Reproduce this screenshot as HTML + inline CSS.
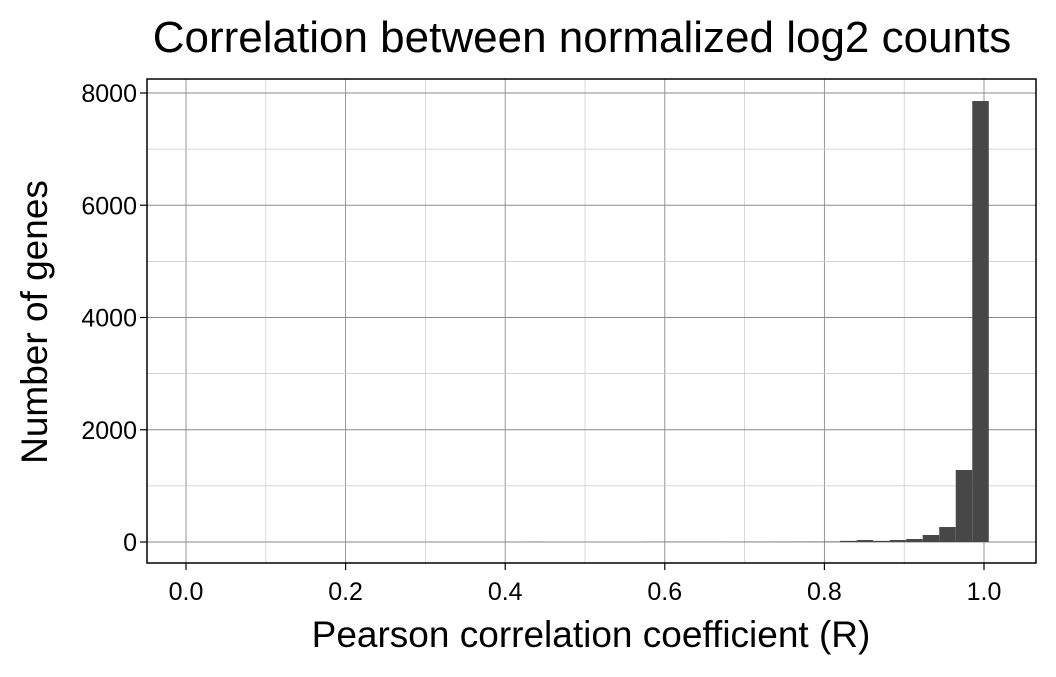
<!DOCTYPE html>
<html><head><meta charset="utf-8"><style>
body{margin:0;background:#fff;font-family:"Liberation Sans",sans-serif}
svg text{font-family:"Liberation Sans",sans-serif}
</style></head><body>
<svg id="c" width="1056" height="672"></svg>
<script>
const counts=[0,0,0,0,0,0,0,0,0,0,0,0,0,0,0,0,0,0,0,0,0,3,0,0,0,0,0,0,2,2,2,2,2,3,3,3,4,5,6,8,20,35,20,35,53,125,267,1283,7857];
const binWidth=0.0207;
const lastEdge=1.006;
const xTicks=[0,0.2,0.4,0.6,0.8,1.0];
const xTickLabels=["0.0","0.2","0.4","0.6","0.8","1.0"];
const yTicks=[0,2000,4000,6000,8000];
const L=147,R=1036,T=79,B=563;
const X=v=>186+(v)*798;
const Y=v=>542-v*449/8000;
const s=document.getElementById('c');
const NS='http://www.w3.org/2000/svg';
function el(t,a,txt){const e=document.createElementNS(NS,t);for(const k in a)e.setAttribute(k,a[k]);if(txt!==undefined)e.textContent=txt;s.appendChild(e);return e;}
let r=el('rect',{x:L,y:T,width:R-L,height:B-T,fill:'#fff'});

for(let i=0;i<=10;i++){const v=i/10;const g=el('line',{x1:X(v),x2:X(v),y1:T,y2:B,stroke:i%2?'#c8c8c8':'#8a8a8a','stroke-width':i%2?0.7:0.9});
}
for(let i=0;i<=9;i++){const v=i*1000;if(Y(v)<T)continue;const g=el('line',{x1:L,x2:R,y1:Y(v),y2:Y(v),stroke:i%2?'#c8c8c8':'#8a8a8a','stroke-width':i%2?0.7:0.9});
}
const n=counts.length;
counts.forEach((c,i)=>{const x0=lastEdge-(n-i)*binWidth;const b=el('rect',{x:X(x0),y:Y(c),width:binWidth*798,height:Math.max(0,Y(0)-Y(c)),fill:'#474747'});
});
const f=el('rect',{x:L,y:T,width:R-L,height:B-T,fill:'none',stroke:'#000','stroke-width':1.5});

xTicks.forEach((v,i)=>{el('line',{x1:X(v),x2:X(v),y1:B,y2:B+7,stroke:'#000','stroke-width':1.2});
const t=el('text',{x:X(v),y:B+37,'font-size':25,'text-anchor':'middle',fill:'#000'},xTickLabels[i]);
});
yTicks.forEach(v=>{el('line',{x1:L-7,x2:L,y1:Y(v),y2:Y(v),stroke:'#000','stroke-width':1.2});
const t=el('text',{x:L-10,y:Y(v)+9,'font-size':25,'text-anchor':'end',fill:'#000'},String(v));
});
let t=el('text',{x:582,y:52,'font-size':44,'text-anchor':'middle',fill:'#000'},'Correlation between normalized log2 counts');

t=el('text',{x:591,y:647,'font-size':37,'text-anchor':'middle',fill:'#000'},'Pearson correlation coefficient (R)');

t=el('text',{x:0,y:0,'font-size':37,'text-anchor':'middle',fill:'#000',transform:'translate(47,322) rotate(-90)'},'Number of genes');

</script>
</body></html>
